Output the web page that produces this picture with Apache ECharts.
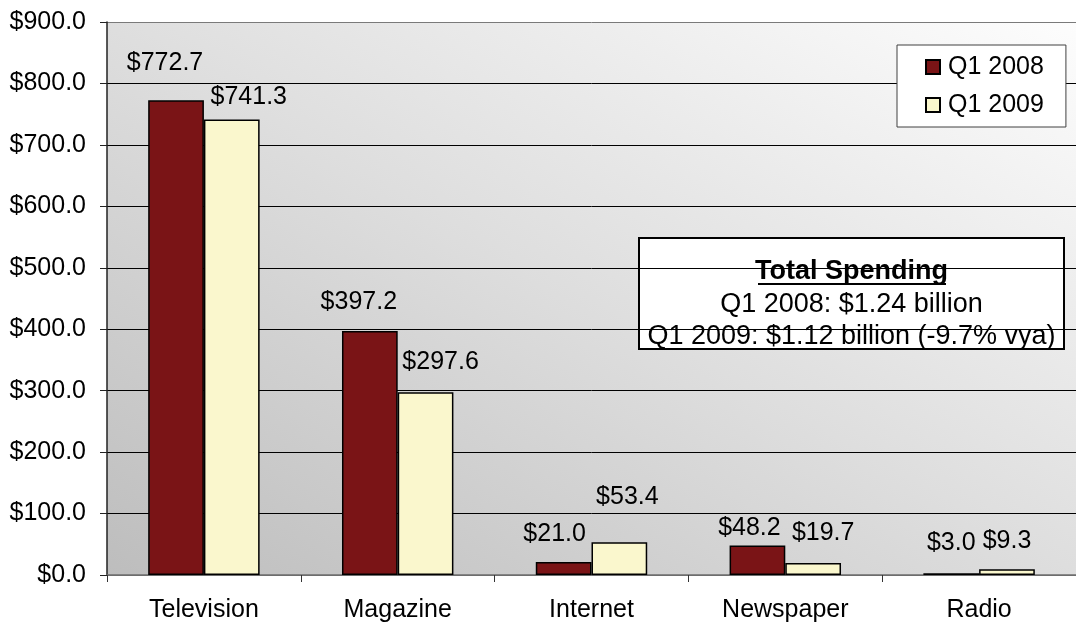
<!DOCTYPE html>
<html>
<head>
<meta charset="utf-8">
<style>
  html, body { margin: 0; padding: 0; background: #ffffff; }
  #chart { width: 1076px; height: 624px; }
</style>
<script src="https://cdn.jsdelivr.net/npm/echarts@6/dist/echarts.min.js"></script>
</head>
<body>
<div id="chart"></div>
<script>
// Ad spending by medium, in $ millions
const categories = ['Television', 'Magazine', 'Internet', 'Newspaper', 'Radio'];
const spend2008 = [772.7, 397.2, 21.0, 48.2, 3.0];
const spend2009 = [741.3, 297.6, 53.4, 19.7, 9.3];
const seriesNames = ['Q1 2008', 'Q1 2009'];
const yTicks = { min: 0, max: 900, interval: 100 };
const summaryTitle = 'Total Spending';
const summaryLines = ['Q1 2008: $1.24 billion', 'Q1 2009: $1.12 billion (-9.7% vya)'];

// hand-placed label nudges [dx, dy] so value labels sit like a spreadsheet chart
const nudge2008 = [[-11, -20], [-11, -11], [-9, -10], [-8, 0], [0, -13]];
const nudge2009 = [[17, -5], [15, -13], [8, -28], [10, -12], [0, -11]];

const FONT = '"Liberation Sans", Arial, sans-serif';
const money = v => '$' + v.toFixed(1);

function buildData(values, nudges) {
  return values.map((v, i) => ({
    value: v,
    label: { offset: nudges[i] }
  }));
}

const chart = echarts.init(document.getElementById('chart'), null, { renderer: 'canvas' });

const barLabel = {
  show: true,
  position: 'top',
  distance: 5,
  color: '#000',
  fontFamily: FONT,
  fontSize: 25,
  formatter: p => money(p.value)
};

// plot-area shading: dark lower-left corner fading to white upper-right,
// with the other two corners at the middle tone
const plotShade = new echarts.graphic.LinearGradient(0.257, 1.2575, 0.743, -0.2575, [
  { offset: 0, color: '#bdbdbd' },
  { offset: 0.5, color: '#dedede' },
  { offset: 1, color: '#fdfdfd' }
]);

const option = {
  animation: false,
  backgroundColor: '#ffffff',
  grid: {
    left: 107,
    top: 22,
    width: 977,
    height: 553,
    show: true,
    borderWidth: 0,
    backgroundColor: plotShade
  },
  legend: {
    orient: 'vertical',
    left: 897,
    top: 45,
    padding: [9, 22, 9, 28],
    itemGap: 12,
    itemWidth: 14,
    itemHeight: 14,
    icon: 'rect',
    backgroundColor: '#ffffff',
    borderColor: '#404040',
    borderWidth: 1,
    textStyle: { color: '#000', fontFamily: FONT, fontSize: 25, lineHeight: 26, padding: [0, 0, 0, 3] },
    data: seriesNames
  },
  xAxis: {
    type: 'category',
    data: categories,
    axisLine: { show: true, lineStyle: { color: '#6e6e6e', width: 1.5 } },
    axisTick: { show: true, length: 7, lineStyle: { color: '#333', width: 1 } },
    axisLabel: { color: '#000', fontFamily: FONT, fontSize: 25, margin: 23 },
    splitLine: { show: false }
  },
  yAxis: {
    type: 'value',
    min: yTicks.min,
    max: yTicks.max,
    interval: yTicks.interval,
    axisLine: { show: true, lineStyle: { color: '#222', width: 1.5 } },
    axisTick: { show: true, length: 7, lineStyle: { color: '#222', width: 1 } },
    axisLabel: { color: '#000', fontFamily: FONT, fontSize: 25, margin: 21, formatter: v => money(v) },
    splitLine: {
      show: true,
      lineStyle: {
        color: ['#6e6e6e', '#000', '#000', '#000', '#000', '#000', '#000', '#000', '#000', '#7a7a7a'],
        width: 1
      }
    }
  },
  series: [
    {
      name: seriesNames[0],
      type: 'bar',
      data: buildData(spend2008, nudge2008),
      barGap: '0%',
      barCategoryGap: '42.5%',
      itemStyle: { color: '#7a1416', borderColor: '#000', borderWidth: 1.5 },
      label: barLabel
    },
    {
      name: seriesNames[1],
      type: 'bar',
      data: buildData(spend2009, nudge2009),
      barGap: '0%',
      barCategoryGap: '42.5%',
      itemStyle: { color: '#faf7cd', borderColor: '#000', borderWidth: 1.5 },
      label: barLabel
    }
  ],
  graphic: [
    {
      type: 'group',
      left: 638,
      top: 237,
      children: [
        {
          type: 'rect',
          shape: { x: 0, y: 0, width: 425, height: 111 },
          style: { fill: '#ffffff', stroke: '#000', lineWidth: 2 }
        },
        {
          type: 'text',
          x: 212.5,
          y: 34,
          style: {
            text: summaryTitle,
            fill: '#000',
            font: 'bold 27px ' + FONT,
            align: 'center',
            verticalAlign: 'middle'
          }
        },
        {
          type: 'line',
          shape: { x1: 119, y1: 46, x2: 307, y2: 46 },
          style: { stroke: '#000', lineWidth: 2 }
        },
        {
          type: 'text',
          x: 212.5,
          y: 66.5,
          style: {
            text: summaryLines[0],
            fill: '#000',
            font: '27px ' + FONT,
            align: 'center',
            verticalAlign: 'middle'
          }
        },
        {
          type: 'text',
          x: 212.5,
          y: 99,
          style: {
            text: summaryLines[1],
            fill: '#000',
            font: '27px ' + FONT,
            align: 'center',
            verticalAlign: 'middle'
          }
        }
      ]
    }
  ]
};

chart.setOption(option);
</script>
</body>
</html>
